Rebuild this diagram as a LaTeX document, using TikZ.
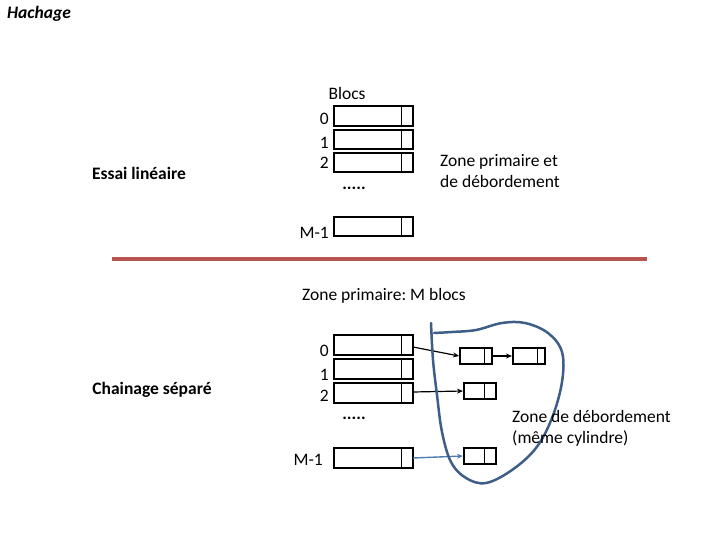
\documentclass[tikz,border=0pt]{standalone}
\usepackage{fontspec}
\setmainfont{Carlito}
\usetikzlibrary{arrows.meta}
\frenchspacing
\begin{document}
\begin{tikzpicture}[x=1pt,y=-1pt,
  blk/.style={draw=black,line width=2.8pt,fill=white},
  sep/.style={draw=black,line width=0.8pt},
  lbl/.style={font=\fontsize{17.5}{21}\selectfont,inner sep=0pt},
  lblL/.style={lbl,anchor=west},
  lblR/.style={lbl,anchor=east},
  link/.style={draw=black,line width=1.2pt,-{Stealth[length=6pt,width=5pt]}},
  bluelink/.style={draw=arrowblue,line width=1.4pt,-{Stealth[length=6pt,width=5pt]}}]
\definecolor{redline}{RGB}{183,84,80}
\definecolor{blobblue}{RGB}{62,93,135}
\definecolor{arrowblue}{RGB}{79,124,172}
\useasboundingbox (0,0) rectangle (720,540);

% title
\node[lblL,font=\fontsize{17.5}{21}\selectfont\bfseries\itshape] (title) at (7,14) {Hachage};

% ---------- top part ----------
\node[lbl] (blocs) at (347,93) {Blocs};
\foreach \n/\ya/\yb in {t0/106/126,t1/130/149,t2/153/172,tm/217/236}{
  \draw[blk] (334,\ya) rectangle (413,\yb);
  \draw[sep] (401,\ya) -- (401,\yb);
  \coordinate (\n) at (413,{(\ya+\yb)/2});
}
\node[lblR] (l0) at (329,119) {0};
\node[lblR] (l1) at (329,143) {1};
\node[lblR] (l2) at (329,163) {2};
\node[lbl,font=\fontsize{17.5}{21}\selectfont\bfseries] (dots1) at (354,188) {.....};
\node[lblR] (lm) at (329,233) {M-1};
\node[lbl,font=\fontsize{17.5}{21}\selectfont\bfseries] (essai) at (139,173) {Essai linéaire};
\node[lblL,align=left] (zp) at (440,171) {Zone primaire et\\de débordement};

% separator
\draw[draw=redline,line width=3.5pt] (112,259) -- (647,259);

% ---------- bottom part ----------
\node[lbl] (zpm) at (384,296) {Zone primaire: M blocs};
\foreach \n/\ya/\yb in {b0/335/355,b1/359/379,b2/383/403,bm/448/468}{
  \draw[blk] (334,\ya) rectangle (413,\yb);
  \draw[sep] (401,\ya) -- (401,\yb);
  \coordinate (\n) at (413,{(\ya+\yb)/2});
}
\node[lblR] (m0) at (329,351) {0};
\node[lblR] (m1) at (329,375) {1};
\node[lblR] (m2) at (329,396) {2};
\node[lbl,font=\fontsize{17.5}{21}\selectfont\bfseries] (dots2) at (354,418) {.....};
\node[lblR] (mm) at (323,460) {M-1};
\node[lbl,font=\fontsize{17.5}{21}\selectfont\bfseries] (chain) at (152,390) {Chainage séparé};

% overflow blocks
\draw[blk,line width=2.4pt] (460,348) rectangle (492,364); \draw[sep] (484,348) -- (484,364);
\draw[blk,line width=2.4pt] (513,348) rectangle (545,364); \draw[sep] (537,348) -- (537,364);
\draw[blk,line width=2.4pt] (464,383) rectangle (496,399); \draw[sep] (484,383) -- (484,399);
\draw[blk,line width=2.4pt] (464,448) rectangle (496,464); \draw[sep] (484,448) -- (484,464);
\coordinate (o1) at (459,356);
\coordinate (o1r) at (493,356);
\coordinate (o2) at (512,356);
\coordinate (o3) at (463,391);
\coordinate (o4) at (463,456);

\draw[link] (413,347) -- (o1);
\draw[link] (o1r) -- (o2);
\draw[link] (413,392) -- (o3);
\draw[bluelink] (413,458) -- (o4);

% overflow zone outline
\draw[draw=blobblue,line width=2.5pt,line cap=round]
  plot[smooth,tension=0.6] coordinates {(431,323) (433,360) (437,395) (442,432) (451,462) (466,478) (486,483) (512,470) (536,448) (552,418) (562,382) (562,352) (548,333) (525,323) (502,323) (476,330) (452,332) (434,333)};

\node[lblL,align=left] (zd) at (512,428) {Zone de débordement\\(même cylindre)};
\end{tikzpicture}
\end{document}
